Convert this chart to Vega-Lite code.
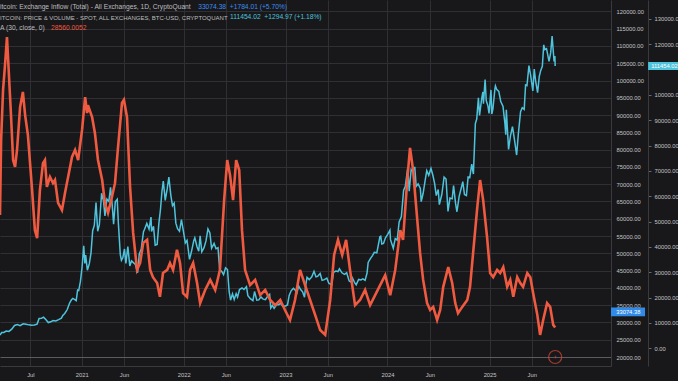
{
  "$schema": "https://vega.github.io/schema/vega-lite/v6.json",
  "width": 611,
  "height": 366,
  "autosize": {"type": "none"},
  "padding": {"left": 0, "top": 0, "right": 67, "bottom": 15},
  "background": "#18181b",
  "config": {
    "view": {"stroke": null},
    "font": "Liberation Sans",
    "axis": {"labelColor": "#c4c4c4", "labelFontSize": 5.8, "domainColor": "#3a3a3e", "labelOverlap": false, "labelFlush": false, "tickColor": "#6a6a6e", "gridColor": "#303034"}
  },
  "datasets": {
    "price": [
      {"date": "2020-03-14", "price": 5200}, {"date": "2020-03-20", "price": 6200}, {"date": "2020-03-28", "price": 6250},
      {"date": "2020-04-05", "price": 6800}, {"date": "2020-04-15", "price": 6650}, {"date": "2020-04-25", "price": 7550},
      {"date": "2020-05-05", "price": 9000}, {"date": "2020-05-15", "price": 9350}, {"date": "2020-05-25", "price": 8900},
      {"date": "2020-06-05", "price": 9650}, {"date": "2020-06-15", "price": 9450}, {"date": "2020-06-25", "price": 9250},
      {"date": "2020-07-05", "price": 9100}, {"date": "2020-07-15", "price": 9200}, {"date": "2020-07-25", "price": 9550},
      {"date": "2020-08-01", "price": 11800}, {"date": "2020-08-10", "price": 11900}, {"date": "2020-08-17", "price": 12300},
      {"date": "2020-08-25", "price": 11350}, {"date": "2020-09-03", "price": 10150}, {"date": "2020-09-12", "price": 10450},
      {"date": "2020-09-20", "price": 10950}, {"date": "2020-09-30", "price": 10780}, {"date": "2020-10-10", "price": 11300},
      {"date": "2020-10-20", "price": 11900}, {"date": "2020-10-25", "price": 13000}, {"date": "2020-11-01", "price": 13750},
      {"date": "2020-11-10", "price": 15300}, {"date": "2020-11-18", "price": 17800}, {"date": "2020-11-25", "price": 19150},
      {"date": "2020-11-30", "price": 19700}, {"date": "2020-12-07", "price": 19200}, {"date": "2020-12-12", "price": 18800},
      {"date": "2020-12-17", "price": 23000}, {"date": "2020-12-21", "price": 22800}, {"date": "2020-12-27", "price": 26300},
      {"date": "2021-01-02", "price": 32000}, {"date": "2021-01-08", "price": 40500}, {"date": "2021-01-12", "price": 33500},
      {"date": "2021-01-15", "price": 36800}, {"date": "2021-01-21", "price": 30800}, {"date": "2021-01-28", "price": 33400},
      {"date": "2021-02-03", "price": 37600}, {"date": "2021-02-09", "price": 46400}, {"date": "2021-02-15", "price": 48600},
      {"date": "2021-02-21", "price": 57500}, {"date": "2021-02-27", "price": 46200}, {"date": "2021-03-05", "price": 48800},
      {"date": "2021-03-13", "price": 61200}, {"date": "2021-03-20", "price": 58000}, {"date": "2021-03-25", "price": 52300},
      {"date": "2021-04-01", "price": 58900}, {"date": "2021-04-08", "price": 58000}, {"date": "2021-04-14", "price": 63500},
      {"date": "2021-04-20", "price": 56500}, {"date": "2021-04-25", "price": 49000}, {"date": "2021-05-01", "price": 57800},
      {"date": "2021-05-08", "price": 58800}, {"date": "2021-05-12", "price": 49500}, {"date": "2021-05-19", "price": 37000},
      {"date": "2021-05-23", "price": 34700}, {"date": "2021-05-28", "price": 35700}, {"date": "2021-06-03", "price": 39200},
      {"date": "2021-06-08", "price": 33500}, {"date": "2021-06-15", "price": 40200}, {"date": "2021-06-22", "price": 32500},
      {"date": "2021-06-28", "price": 34500}, {"date": "2021-07-05", "price": 33800}, {"date": "2021-07-12", "price": 33100},
      {"date": "2021-07-20", "price": 29800}, {"date": "2021-07-26", "price": 37300}, {"date": "2021-08-02", "price": 39200},
      {"date": "2021-08-10", "price": 46000}, {"date": "2021-08-14", "price": 47000}, {"date": "2021-08-22", "price": 49300},
      {"date": "2021-08-30", "price": 47000}, {"date": "2021-09-06", "price": 51800}, {"date": "2021-09-08", "price": 46100},
      {"date": "2021-09-15", "price": 48200}, {"date": "2021-09-21", "price": 40700}, {"date": "2021-09-28", "price": 41000},
      {"date": "2021-10-04", "price": 49100}, {"date": "2021-10-10", "price": 54900}, {"date": "2021-10-15", "price": 61700},
      {"date": "2021-10-20", "price": 66000}, {"date": "2021-10-27", "price": 58400}, {"date": "2021-11-03", "price": 62900},
      {"date": "2021-11-09", "price": 67600}, {"date": "2021-11-16", "price": 60400}, {"date": "2021-11-22", "price": 56300},
      {"date": "2021-11-28", "price": 57300}, {"date": "2021-12-04", "price": 49400}, {"date": "2021-12-10", "price": 47200},
      {"date": "2021-12-17", "price": 46200}, {"date": "2021-12-24", "price": 50800}, {"date": "2021-12-31", "price": 46300},
      {"date": "2022-01-07", "price": 41600}, {"date": "2022-01-13", "price": 42600}, {"date": "2022-01-22", "price": 35100},
      {"date": "2022-01-29", "price": 38200}, {"date": "2022-02-06", "price": 42400}, {"date": "2022-02-10", "price": 43600},
      {"date": "2022-02-18", "price": 40000}, {"date": "2022-02-24", "price": 38300}, {"date": "2022-03-01", "price": 44400},
      {"date": "2022-03-07", "price": 38100}, {"date": "2022-03-15", "price": 39700}, {"date": "2022-03-22", "price": 42400},
      {"date": "2022-03-29", "price": 47100}, {"date": "2022-04-05", "price": 45500}, {"date": "2022-04-11", "price": 39500},
      {"date": "2022-04-20", "price": 41400}, {"date": "2022-04-27", "price": 39300}, {"date": "2022-05-04", "price": 39700},
      {"date": "2022-05-10", "price": 31000}, {"date": "2022-05-17", "price": 30400}, {"date": "2022-05-24", "price": 29100},
      {"date": "2022-05-31", "price": 31800}, {"date": "2022-06-07", "price": 31100}, {"date": "2022-06-13", "price": 22400},
      {"date": "2022-06-18", "price": 19000}, {"date": "2022-06-25", "price": 21500}, {"date": "2022-07-01", "price": 19300},
      {"date": "2022-07-08", "price": 21600}, {"date": "2022-07-13", "price": 20200}, {"date": "2022-07-20", "price": 23200},
      {"date": "2022-07-29", "price": 23800}, {"date": "2022-08-05", "price": 23200}, {"date": "2022-08-14", "price": 24300},
      {"date": "2022-08-19", "price": 20800}, {"date": "2022-08-28", "price": 19600}, {"date": "2022-09-06", "price": 18800},
      {"date": "2022-09-12", "price": 22400}, {"date": "2022-09-20", "price": 19000}, {"date": "2022-09-27", "price": 19100},
      {"date": "2022-10-05", "price": 20300}, {"date": "2022-10-13", "price": 19400}, {"date": "2022-10-21", "price": 19200},
      {"date": "2022-10-29", "price": 20600}, {"date": "2022-11-05", "price": 21300}, {"date": "2022-11-09", "price": 15900},
      {"date": "2022-11-15", "price": 16900}, {"date": "2022-11-21", "price": 15800}, {"date": "2022-11-30", "price": 17200},
      {"date": "2022-12-08", "price": 17200}, {"date": "2022-12-14", "price": 17800}, {"date": "2022-12-20", "price": 16900},
      {"date": "2022-12-30", "price": 16600}, {"date": "2023-01-08", "price": 17100}, {"date": "2023-01-14", "price": 20900},
      {"date": "2023-01-21", "price": 22700}, {"date": "2023-01-29", "price": 23700}, {"date": "2023-02-05", "price": 22900},
      {"date": "2023-02-10", "price": 21600}, {"date": "2023-02-17", "price": 24600}, {"date": "2023-02-24", "price": 23200},
      {"date": "2023-03-03", "price": 22300}, {"date": "2023-03-10", "price": 20200}, {"date": "2023-03-14", "price": 24700},
      {"date": "2023-03-19", "price": 28000}, {"date": "2023-03-27", "price": 27100}, {"date": "2023-04-05", "price": 28200},
      {"date": "2023-04-13", "price": 30400}, {"date": "2023-04-20", "price": 28200}, {"date": "2023-04-26", "price": 28400},
      {"date": "2023-05-05", "price": 29500}, {"date": "2023-05-12", "price": 26800}, {"date": "2023-05-20", "price": 27100},
      {"date": "2023-05-29", "price": 27700}, {"date": "2023-06-05", "price": 25700}, {"date": "2023-06-15", "price": 25100},
      {"date": "2023-06-22", "price": 30000}, {"date": "2023-06-30", "price": 30500}, {"date": "2023-07-08", "price": 30300},
      {"date": "2023-07-13", "price": 31400}, {"date": "2023-07-22", "price": 29800}, {"date": "2023-07-31", "price": 29200},
      {"date": "2023-08-08", "price": 29800}, {"date": "2023-08-17", "price": 26600}, {"date": "2023-08-25", "price": 26100},
      {"date": "2023-08-29", "price": 27700}, {"date": "2023-09-06", "price": 25800}, {"date": "2023-09-11", "price": 25100},
      {"date": "2023-09-20", "price": 27200}, {"date": "2023-09-28", "price": 27000}, {"date": "2023-10-05", "price": 27400},
      {"date": "2023-10-13", "price": 26800}, {"date": "2023-10-20", "price": 29700}, {"date": "2023-10-24", "price": 33900},
      {"date": "2023-11-01", "price": 35400}, {"date": "2023-11-09", "price": 36700}, {"date": "2023-11-15", "price": 37900},
      {"date": "2023-11-24", "price": 37700}, {"date": "2023-12-05", "price": 44000}, {"date": "2023-12-08", "price": 44200},
      {"date": "2023-12-12", "price": 41200}, {"date": "2023-12-18", "price": 41400}, {"date": "2023-12-25", "price": 43600},
      {"date": "2024-01-02", "price": 45000}, {"date": "2024-01-10", "price": 46600}, {"date": "2024-01-12", "price": 42900},
      {"date": "2024-01-22", "price": 39500}, {"date": "2024-01-29", "price": 43300}, {"date": "2024-02-05", "price": 42700},
      {"date": "2024-02-12", "price": 49900}, {"date": "2024-02-20", "price": 52000}, {"date": "2024-02-28", "price": 62400},
      {"date": "2024-03-05", "price": 63800}, {"date": "2024-03-14", "price": 71400}, {"date": "2024-03-19", "price": 62000},
      {"date": "2024-03-26", "price": 70600}, {"date": "2024-04-01", "price": 69700}, {"date": "2024-04-08", "price": 71600},
      {"date": "2024-04-13", "price": 63900}, {"date": "2024-04-20", "price": 64900}, {"date": "2024-04-28", "price": 63100},
      {"date": "2024-05-01", "price": 57900}, {"date": "2024-05-08", "price": 61200}, {"date": "2024-05-15", "price": 66200},
      {"date": "2024-05-21", "price": 70100}, {"date": "2024-05-28", "price": 68300}, {"date": "2024-06-05", "price": 71000},
      {"date": "2024-06-12", "price": 68200}, {"date": "2024-06-18", "price": 65100}, {"date": "2024-06-24", "price": 60300},
      {"date": "2024-07-01", "price": 62700}, {"date": "2024-07-05", "price": 56700}, {"date": "2024-07-14", "price": 60800},
      {"date": "2024-07-22", "price": 67600}, {"date": "2024-07-29", "price": 66800}, {"date": "2024-08-05", "price": 54000},
      {"date": "2024-08-12", "price": 59300}, {"date": "2024-08-20", "price": 59000}, {"date": "2024-08-25", "price": 64200},
      {"date": "2024-09-01", "price": 57300}, {"date": "2024-09-06", "price": 53900}, {"date": "2024-09-14", "price": 60000},
      {"date": "2024-09-22", "price": 63500}, {"date": "2024-09-27", "price": 65800}, {"date": "2024-10-03", "price": 60700},
      {"date": "2024-10-10", "price": 60300}, {"date": "2024-10-16", "price": 67600}, {"date": "2024-10-22", "price": 67400},
      {"date": "2024-10-29", "price": 72700}, {"date": "2024-11-04", "price": 68800}, {"date": "2024-11-11", "price": 88700},
      {"date": "2024-11-16", "price": 90500}, {"date": "2024-11-22", "price": 98900}, {"date": "2024-11-26", "price": 91900},
      {"date": "2024-12-04", "price": 98800}, {"date": "2024-12-08", "price": 101200}, {"date": "2024-12-10", "price": 96600},
      {"date": "2024-12-16", "price": 106100}, {"date": "2024-12-20", "price": 97800}, {"date": "2024-12-26", "price": 95700},
      {"date": "2024-12-30", "price": 92700}, {"date": "2025-01-06", "price": 102000}, {"date": "2025-01-09", "price": 92500},
      {"date": "2025-01-13", "price": 94500}, {"date": "2025-01-20", "price": 102300}, {"date": "2025-01-22", "price": 103600},
      {"date": "2025-01-27", "price": 102100}, {"date": "2025-02-03", "price": 101400}, {"date": "2025-02-10", "price": 97400},
      {"date": "2025-02-18", "price": 95600}, {"date": "2025-02-25", "price": 88700}, {"date": "2025-02-28", "price": 84300},
      {"date": "2025-03-02", "price": 94200}, {"date": "2025-03-10", "price": 78500}, {"date": "2025-03-17", "price": 84000},
      {"date": "2025-03-24", "price": 87500}, {"date": "2025-03-31", "price": 82500}, {"date": "2025-04-08", "price": 76300},
      {"date": "2025-04-14", "price": 84600}, {"date": "2025-04-22", "price": 93400}, {"date": "2025-04-28", "price": 95000},
      {"date": "2025-05-05", "price": 94300}, {"date": "2025-05-10", "price": 104000}, {"date": "2025-05-15", "price": 103700},
      {"date": "2025-05-22", "price": 111600}, {"date": "2025-05-28", "price": 107800}, {"date": "2025-06-05", "price": 101600},
      {"date": "2025-06-10", "price": 110200}, {"date": "2025-06-15", "price": 105500}, {"date": "2025-06-22", "price": 100900},
      {"date": "2025-06-28", "price": 107300}, {"date": "2025-07-03", "price": 109600}, {"date": "2025-07-09", "price": 111300},
      {"date": "2025-07-14", "price": 119800}, {"date": "2025-07-18", "price": 117900}, {"date": "2025-07-24", "price": 118300},
      {"date": "2025-08-02", "price": 113300}, {"date": "2025-08-08", "price": 116700}, {"date": "2025-08-13", "price": 123300},
      {"date": "2025-08-17", "price": 117500}, {"date": "2025-08-20", "price": 113200}, {"date": "2025-08-23", "price": 115400},
      {"date": "2025-08-24", "price": 111454}
    ],
    "inflow": [
      {"date": "2020-03-14", "inflow": 61100}, {"date": "2020-03-18", "inflow": 82800}, {"date": "2020-03-25", "inflow": 97300},
      {"date": "2020-04-01", "inflow": 104500}, {"date": "2020-04-08", "inflow": 112600}, {"date": "2020-04-15", "inflow": 101600},
      {"date": "2020-04-22", "inflow": 90600}, {"date": "2020-04-30", "inflow": 77000}, {"date": "2020-05-07", "inflow": 75000},
      {"date": "2020-05-14", "inflow": 79900}, {"date": "2020-05-25", "inflow": 92300}, {"date": "2020-06-04", "inflow": 96700},
      {"date": "2020-06-12", "inflow": 90000}, {"date": "2020-06-22", "inflow": 84200}, {"date": "2020-07-07", "inflow": 68300},
      {"date": "2020-07-17", "inflow": 56700}, {"date": "2020-07-25", "inflow": 54400}, {"date": "2020-08-04", "inflow": 68300},
      {"date": "2020-08-15", "inflow": 76100}, {"date": "2020-08-22", "inflow": 77000}, {"date": "2020-08-29", "inflow": 69200},
      {"date": "2020-09-09", "inflow": 72100}, {"date": "2020-09-20", "inflow": 70300}, {"date": "2020-09-27", "inflow": 71200},
      {"date": "2020-10-08", "inflow": 64600}, {"date": "2020-10-22", "inflow": 62500}, {"date": "2020-11-02", "inflow": 67500},
      {"date": "2020-11-13", "inflow": 72100}, {"date": "2020-11-27", "inflow": 77900}, {"date": "2020-12-08", "inflow": 79900},
      {"date": "2020-12-19", "inflow": 77000}, {"date": "2021-01-02", "inflow": 85700}, {"date": "2021-01-13", "inflow": 95200},
      {"date": "2021-01-20", "inflow": 90600}, {"date": "2021-01-23", "inflow": 92900}, {"date": "2021-02-07", "inflow": 89400},
      {"date": "2021-02-17", "inflow": 84800}, {"date": "2021-02-28", "inflow": 77000}, {"date": "2021-03-15", "inflow": 71200},
      {"date": "2021-03-25", "inflow": 64600}, {"date": "2021-04-05", "inflow": 61700}, {"date": "2021-04-19", "inflow": 66300},
      {"date": "2021-04-30", "inflow": 70300}, {"date": "2021-05-11", "inflow": 80800}, {"date": "2021-05-25", "inflow": 93500},
      {"date": "2021-06-01", "inflow": 94400}, {"date": "2021-06-12", "inflow": 89400}, {"date": "2021-06-23", "inflow": 69200},
      {"date": "2021-07-04", "inflow": 55900}, {"date": "2021-07-18", "inflow": 45200}, {"date": "2021-07-29", "inflow": 47200},
      {"date": "2021-08-09", "inflow": 53000}, {"date": "2021-08-23", "inflow": 53900}, {"date": "2021-09-03", "inflow": 45200},
      {"date": "2021-09-13", "inflow": 43100}, {"date": "2021-09-28", "inflow": 41400}, {"date": "2021-10-08", "inflow": 37400},
      {"date": "2021-10-19", "inflow": 44300}, {"date": "2021-11-03", "inflow": 45200}, {"date": "2021-11-13", "inflow": 47200},
      {"date": "2021-11-24", "inflow": 45200}, {"date": "2021-12-08", "inflow": 51000}, {"date": "2021-12-19", "inflow": 47200},
      {"date": "2021-12-30", "inflow": 38500}, {"date": "2022-01-13", "inflow": 37400}, {"date": "2022-01-24", "inflow": 45200},
      {"date": "2022-02-04", "inflow": 47200}, {"date": "2022-02-18", "inflow": 41400}, {"date": "2022-03-01", "inflow": 35600},
      {"date": "2022-03-19", "inflow": 39400}, {"date": "2022-04-06", "inflow": 42300}, {"date": "2022-04-24", "inflow": 39400},
      {"date": "2022-05-11", "inflow": 45200}, {"date": "2022-05-26", "inflow": 65400}, {"date": "2022-06-06", "inflow": 77000},
      {"date": "2022-06-16", "inflow": 72700}, {"date": "2022-06-27", "inflow": 65400}, {"date": "2022-07-08", "inflow": 77000},
      {"date": "2022-07-19", "inflow": 74100}, {"date": "2022-07-29", "inflow": 56700}, {"date": "2022-08-09", "inflow": 45200},
      {"date": "2022-08-27", "inflow": 40800}, {"date": "2022-09-14", "inflow": 42300}, {"date": "2022-10-02", "inflow": 37900},
      {"date": "2022-10-20", "inflow": 39400}, {"date": "2022-11-07", "inflow": 36500}, {"date": "2022-11-25", "inflow": 35000},
      {"date": "2022-12-13", "inflow": 36500}, {"date": "2022-12-30", "inflow": 33600}, {"date": "2023-01-17", "inflow": 30700},
      {"date": "2023-02-04", "inflow": 36500}, {"date": "2023-02-22", "inflow": 45200}, {"date": "2023-03-12", "inflow": 40800},
      {"date": "2023-03-30", "inflow": 36500}, {"date": "2023-04-17", "inflow": 32200}, {"date": "2023-05-05", "inflow": 27800},
      {"date": "2023-05-23", "inflow": 26400}, {"date": "2023-06-10", "inflow": 36500}, {"date": "2023-06-24", "inflow": 49500},
      {"date": "2023-07-08", "inflow": 53900}, {"date": "2023-07-23", "inflow": 49500}, {"date": "2023-08-06", "inflow": 53900},
      {"date": "2023-08-20", "inflow": 45200}, {"date": "2023-09-07", "inflow": 35000}, {"date": "2023-09-25", "inflow": 36500},
      {"date": "2023-10-13", "inflow": 39400}, {"date": "2023-10-31", "inflow": 35000}, {"date": "2023-11-18", "inflow": 37900},
      {"date": "2023-12-06", "inflow": 40800}, {"date": "2023-12-24", "inflow": 43700}, {"date": "2024-01-11", "inflow": 37900},
      {"date": "2024-01-29", "inflow": 45200}, {"date": "2024-02-16", "inflow": 56700}, {"date": "2024-02-26", "inflow": 53900},
      {"date": "2024-03-12", "inflow": 71200}, {"date": "2024-03-22", "inflow": 80500}, {"date": "2024-04-02", "inflow": 74100},
      {"date": "2024-04-17", "inflow": 59600}, {"date": "2024-04-27", "inflow": 50100}, {"date": "2024-05-08", "inflow": 42300},
      {"date": "2024-05-22", "inflow": 35600}, {"date": "2024-06-02", "inflow": 33600}, {"date": "2024-06-13", "inflow": 34500},
      {"date": "2024-06-27", "inflow": 30700}, {"date": "2024-07-08", "inflow": 33600}, {"date": "2024-07-19", "inflow": 40300},
      {"date": "2024-08-06", "inflow": 46000}, {"date": "2024-08-20", "inflow": 41400}, {"date": "2024-08-31", "inflow": 35600},
      {"date": "2024-09-10", "inflow": 32700}, {"date": "2024-09-25", "inflow": 34500}, {"date": "2024-10-13", "inflow": 36500},
      {"date": "2024-10-23", "inflow": 40300}, {"date": "2024-11-03", "inflow": 50100}, {"date": "2024-11-18", "inflow": 63400},
      {"date": "2024-11-28", "inflow": 71200}, {"date": "2024-12-09", "inflow": 65400}, {"date": "2024-12-23", "inflow": 54700},
      {"date": "2025-01-03", "inflow": 44300}, {"date": "2025-01-14", "inflow": 43100}, {"date": "2025-01-28", "inflow": 45200},
      {"date": "2025-02-08", "inflow": 44300}, {"date": "2025-02-19", "inflow": 46000}, {"date": "2025-03-05", "inflow": 40300},
      {"date": "2025-03-16", "inflow": 42300}, {"date": "2025-03-27", "inflow": 37400}, {"date": "2025-04-10", "inflow": 43100},
      {"date": "2025-04-21", "inflow": 41400}, {"date": "2025-05-01", "inflow": 40300}, {"date": "2025-05-16", "inflow": 44300},
      {"date": "2025-05-27", "inflow": 43100}, {"date": "2025-06-06", "inflow": 38500}, {"date": "2025-06-21", "inflow": 32200},
      {"date": "2025-07-01", "inflow": 26400}, {"date": "2025-07-12", "inflow": 30700}, {"date": "2025-07-26", "inflow": 35600},
      {"date": "2025-08-06", "inflow": 34500}, {"date": "2025-08-17", "inflow": 29300}, {"date": "2025-08-24", "inflow": 28560}
    ],
    "events": [
      {"date": "2025-08-24", "inflow": 20000}
    ],
    "lastInflow": [
      {"label": "33074.38", "inflow": 33074.38}
    ],
    "lastPrice": [
      {"label": "111454.02", "price": 111454.02}
    ],
    "nameInflow": [{"label": "itcoin: Exchange Inflow (Total) - All Exchanges, 1D, CryptoQuant"}],
    "namePrice": [{"label": "ITCOIN: PRICE & VOLUME - SPOT, ALL EXCHANGES, BTC-USD, CRYPTOQUANT"}],
    "nameSma": [{"label": "A (30, close, 0)"}],
    "legendInflow": [{"label": "33074.38\u00a0\u00a0+1784.01 (+5.70%)"}],
    "legendPrice": [{"label": "111454.02\u00a0\u00a0+1294.97 (+1.18%)"}],
    "legendSma": [{"label": "28560.0052"}]
  },
  "layer": [
    {
      "layer": [
        {
          "data": {"name": "price"},
          "mark": {"type": "line", "color": "#4ec3dc", "strokeWidth": 1.5},
          "encoding": {
            "x": {
              "field": "date",
              "type": "temporal",
              "scale": {"domain": ["2020-03-14", "2026-03-12"]},
              "axis": {
                "title": null,
                "values": [
                  {"year": 2020, "month": 7, "date": 1},
                  {"year": 2021, "month": 1, "date": 1},
                  {"year": 2021, "month": 6, "date": 1},
                  {"year": 2022, "month": 1, "date": 1},
                  {"year": 2022, "month": 6, "date": 1},
                  {"year": 2023, "month": 1, "date": 1},
                  {"year": 2023, "month": 6, "date": 1},
                  {"year": 2024, "month": 1, "date": 1},
                  {"year": 2024, "month": 6, "date": 1},
                  {"year": 2025, "month": 1, "date": 1},
                  {"year": 2025, "month": 6, "date": 1}
                ],
                "labelExpr": "month(datum.value) == 0 ? timeFormat(datum.value, '%Y') : timeFormat(datum.value, '%b')",
                "grid": true,
                "ticks": false,
                "labelPadding": 5
              }
            },
            "y": {
              "field": "price",
              "type": "quantitative",
              "scale": {"domain": [-6990, 137500], "nice": false, "zero": false},
              "axis": {"orient": "right", "offset": 37, "title": null, "values": [0, 10000, 20000, 30000, 40000, 50000, 60000, 70000, 80000, 90000, 100000, 120000, 130000], "format": ".2f", "grid": false, "ticks": true, "tickSize": 3, "labelPadding": 3}
            }
          }
        },
        {
          "data": {"name": "lastPrice"},
          "mark": {"type": "rect", "color": "#4ec3dc"},
          "encoding": {
            "x": {"datum": {"year": 2026, "month": 7, "date": 23}, "type": "temporal"},
            "x2": {"datum": {"year": 2027, "month": 1, "date": 20}},
            "y": {"datum": 109900, "type": "quantitative", "axis": {"orient": "right", "offset": 37, "title": null, "values": [0, 10000, 20000, 30000, 40000, 50000, 60000, 70000, 80000, 90000, 100000, 120000, 130000], "format": ".2f", "grid": false, "ticks": true, "tickSize": 3, "labelPadding": 3}},
            "y2": {"datum": 113000}
          }
        },
        {
          "data": {"name": "lastPrice"},
          "mark": {"type": "text", "color": "#ffffff", "align": "left", "baseline": "middle", "fontSize": 5.8},
          "encoding": {
            "x": {"datum": {"year": 2026, "month": 8, "date": 3}, "type": "temporal"},
            "y": {"field": "price", "type": "quantitative", "axis": {"orient": "right", "offset": 37, "title": null, "values": [0, 10000, 20000, 30000, 40000, 50000, 60000, 70000, 80000, 90000, 100000, 120000, 130000], "format": ".2f", "grid": false, "ticks": true, "tickSize": 3, "labelPadding": 3}},
            "text": {"field": "label"}
          }
        },
        {
          "data": {"name": "legendPrice"},
          "mark": {"type": "text", "color": "#4ec3dc", "align": "left", "baseline": "middle", "fontSize": 6.7},
          "encoding": {
            "x": {"datum": {"year": 2022, "month": 6, "date": 16}, "type": "temporal"},
            "y": {"datum": 130800, "type": "quantitative", "axis": {"orient": "right", "offset": 37, "title": null, "values": [0, 10000, 20000, 30000, 40000, 50000, 60000, 70000, 80000, 90000, 100000, 120000, 130000], "format": ".2f", "grid": false, "ticks": true, "tickSize": 3, "labelPadding": 3}},
            "text": {"field": "label"}
          }
        }
      ]
    },
    {
      "layer": [
        {
          "data": {"name": "inflow"},
          "mark": {"type": "line", "color": "#ef5a40", "strokeWidth": 2.6},
          "encoding": {
            "x": {"field": "date", "type": "temporal"},
            "y": {
              "field": "inflow",
              "type": "quantitative",
              "scale": {"domain": [17396, 123300], "nice": false, "zero": false},
              "axis": {"orient": "right", "offset": 0, "title": null, "values": [20000, 25000, 30000, 35000, 40000, 45000, 50000, 55000, 60000, 65000, 70000, 75000, 80000, 85000, 90000, 95000, 100000, 105000, 110000, 115000, 120000], "format": ".2f", "grid": true, "gridColor": {"condition": {"test": "datum.value == 20000", "value": "#5c5c60"}, "value": "#303034"}, "ticks": false, "labelPadding": 5}
            }
          }
        },
        {
          "data": {"name": "events"},
          "mark": {"type": "point", "shape": "circle", "filled": false, "color": "#e04a3a", "size": 170, "strokeWidth": 1.2},
          "encoding": {
            "x": {"field": "date", "type": "temporal"},
            "y": {"field": "inflow", "type": "quantitative", "axis": {"orient": "right", "offset": 0, "title": null, "values": [20000, 25000, 30000, 35000, 40000, 45000, 50000, 55000, 60000, 65000, 70000, 75000, 80000, 85000, 90000, 95000, 100000, 105000, 110000, 115000, 120000], "format": ".2f", "grid": true, "gridColor": {"condition": {"test": "datum.value == 20000", "value": "#5c5c60"}, "value": "#303034"}, "ticks": false, "labelPadding": 5}}
          }
        },
        {
          "data": {"name": "events"},
          "mark": {"type": "text", "color": "#e04a3a", "fontSize": 6, "baseline": "middle", "align": "center", "text": "↑"},
          "encoding": {
            "x": {"field": "date", "type": "temporal"},
            "y": {"field": "inflow", "type": "quantitative", "axis": {"orient": "right", "offset": 0, "title": null, "values": [20000, 25000, 30000, 35000, 40000, 45000, 50000, 55000, 60000, 65000, 70000, 75000, 80000, 85000, 90000, 95000, 100000, 105000, 110000, 115000, 120000], "format": ".2f", "grid": true, "gridColor": {"condition": {"test": "datum.value == 20000", "value": "#5c5c60"}, "value": "#303034"}, "ticks": false, "labelPadding": 5}}
          }
        },
        {
          "data": {"name": "lastInflow"},
          "mark": {"type": "rect", "color": "#2f8ae8"},
          "encoding": {
            "x": {"datum": {"year": 2026, "month": 3, "date": 12}, "type": "temporal"},
            "x2": {"datum": {"year": 2026, "month": 7, "date": 12}},
            "y": {"datum": 31800, "type": "quantitative", "axis": {"orient": "right", "offset": 0, "title": null, "values": [20000, 25000, 30000, 35000, 40000, 45000, 50000, 55000, 60000, 65000, 70000, 75000, 80000, 85000, 90000, 95000, 100000, 105000, 110000, 115000, 120000], "format": ".2f", "grid": true, "gridColor": {"condition": {"test": "datum.value == 20000", "value": "#5c5c60"}, "value": "#303034"}, "ticks": false, "labelPadding": 5}},
            "y2": {"datum": 34350}
          }
        },
        {
          "data": {"name": "lastInflow"},
          "mark": {"type": "text", "color": "#ffffff", "align": "center", "baseline": "middle", "fontSize": 5.8},
          "encoding": {
            "x": {"datum": {"year": 2026, "month": 5, "date": 13}, "type": "temporal"},
            "y": {"field": "inflow", "type": "quantitative", "axis": {"orient": "right", "offset": 0, "title": null, "values": [20000, 25000, 30000, 35000, 40000, 45000, 50000, 55000, 60000, 65000, 70000, 75000, 80000, 85000, 90000, 95000, 100000, 105000, 110000, 115000, 120000], "format": ".2f", "grid": true, "gridColor": {"condition": {"test": "datum.value == 20000", "value": "#5c5c60"}, "value": "#303034"}, "ticks": false, "labelPadding": 5}},
            "text": {"field": "label"}
          }
        },
        {
          "data": {"name": "nameInflow"},
          "mark": {"type": "text", "color": "#bdbdbd", "align": "left", "baseline": "middle", "fontSize": 6.7},
          "encoding": {
            "x": {"datum": {"year": 2020, "month": 3, "date": 14}, "type": "temporal"},
            "y": {"datum": 121270, "type": "quantitative", "axis": {"orient": "right", "offset": 0, "title": null, "values": [20000, 25000, 30000, 35000, 40000, 45000, 50000, 55000, 60000, 65000, 70000, 75000, 80000, 85000, 90000, 95000, 100000, 105000, 110000, 115000, 120000], "format": ".2f", "grid": true, "gridColor": {"condition": {"test": "datum.value == 20000", "value": "#5c5c60"}, "value": "#303034"}, "ticks": false, "labelPadding": 5}},
            "text": {"field": "label"}
          }
        },
        {
          "data": {"name": "namePrice"},
          "mark": {"type": "text", "color": "#bdbdbd", "align": "left", "baseline": "middle", "fontSize": 6.0},
          "encoding": {
            "x": {"datum": {"year": 2020, "month": 3, "date": 14}, "type": "temporal"},
            "y": {"datum": 118235, "type": "quantitative", "axis": {"orient": "right", "offset": 0, "title": null, "values": [20000, 25000, 30000, 35000, 40000, 45000, 50000, 55000, 60000, 65000, 70000, 75000, 80000, 85000, 90000, 95000, 100000, 105000, 110000, 115000, 120000], "format": ".2f", "grid": true, "gridColor": {"condition": {"test": "datum.value == 20000", "value": "#5c5c60"}, "value": "#303034"}, "ticks": false, "labelPadding": 5}},
            "text": {"field": "label"}
          }
        },
        {
          "data": {"name": "nameSma"},
          "mark": {"type": "text", "color": "#bdbdbd", "align": "left", "baseline": "middle", "fontSize": 6.7},
          "encoding": {
            "x": {"datum": {"year": 2020, "month": 3, "date": 14}, "type": "temporal"},
            "y": {"datum": 115200, "type": "quantitative", "axis": {"orient": "right", "offset": 0, "title": null, "values": [20000, 25000, 30000, 35000, 40000, 45000, 50000, 55000, 60000, 65000, 70000, 75000, 80000, 85000, 90000, 95000, 100000, 105000, 110000, 115000, 120000], "format": ".2f", "grid": true, "gridColor": {"condition": {"test": "datum.value == 20000", "value": "#5c5c60"}, "value": "#303034"}, "ticks": false, "labelPadding": 5}},
            "text": {"field": "label"}
          }
        },
        {
          "data": {"name": "legendInflow"},
          "mark": {"type": "text", "color": "#3d8ef0", "align": "left", "baseline": "middle", "fontSize": 6.7},
          "encoding": {
            "x": {"datum": {"year": 2022, "month": 2, "date": 22}, "type": "temporal"},
            "y": {"datum": 121270, "type": "quantitative", "axis": {"orient": "right", "offset": 0, "title": null, "values": [20000, 25000, 30000, 35000, 40000, 45000, 50000, 55000, 60000, 65000, 70000, 75000, 80000, 85000, 90000, 95000, 100000, 105000, 110000, 115000, 120000], "format": ".2f", "grid": true, "gridColor": {"condition": {"test": "datum.value == 20000", "value": "#5c5c60"}, "value": "#303034"}, "ticks": false, "labelPadding": 5}},
            "text": {"field": "label"}
          }
        },
        {
          "data": {"name": "legendSma"},
          "mark": {"type": "text", "color": "#ef5a40", "align": "left", "baseline": "middle", "fontSize": 6.7},
          "encoding": {
            "x": {"datum": {"year": 2020, "month": 9, "date": 13}, "type": "temporal"},
            "y": {"datum": 115200, "type": "quantitative", "axis": {"orient": "right", "offset": 0, "title": null, "values": [20000, 25000, 30000, 35000, 40000, 45000, 50000, 55000, 60000, 65000, 70000, 75000, 80000, 85000, 90000, 95000, 100000, 105000, 110000, 115000, 120000], "format": ".2f", "grid": true, "gridColor": {"condition": {"test": "datum.value == 20000", "value": "#5c5c60"}, "value": "#303034"}, "ticks": false, "labelPadding": 5}},
            "text": {"field": "label"}
          }
        }
      ]
    }
  ],
  "resolve": {"scale": {"y": "independent"}}
}
